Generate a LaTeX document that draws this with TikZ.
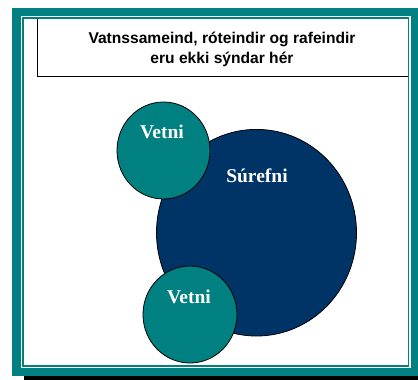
\documentclass[tikz,border=0pt]{standalone}
\usepackage{fontspec}
\setmainfont{Liberation Serif}
\newfontfamily\titlefont{Liberation Sans}
\usetikzlibrary{shapes.geometric}
\definecolor{tealc}{RGB}{0,128,128}
\definecolor{navyc}{RGB}{0,51,102}
\tikzset{
  atom/.style={ellipse, draw=black, line width=0.8bp, inner sep=0pt},
  atomlabel/.style={anchor=base, text=white, font=\bfseries\fontsize{19.5bp}{22bp}\selectfont, inner sep=0pt},
  titletext/.style={anchor=base, font=\titlefont\bfseries\fontsize{15.6bp}{19bp}\selectfont, inner sep=0pt},
}
\begin{document}
\begin{tikzpicture}[x=1bp,y=-1bp]
\useasboundingbox (0,0) rectangle (418,380);
% frame
\fill[black] (24,376) rectangle (418,380);
\fill[tealc] (12,8) rectangle (418,376);
\fill[white] (21,16) rectangle (410.7,368.3);
\fill[tealc] (22.3,17.3) rectangle (409.4,366.8);
\fill[white] (23.6,19) rectangle (407.8,365);
% title box
\draw[black, line width=0.8bp] (37,19) -- (37,76) -- (407.8,76);
\node[titletext] (t1) at (222,43) {Vatnssameind, róteindir og rafeindir};
\node[titletext] (t2) at (222,63) {eru ekki sýndar hér};
% atoms
\node[atom, fill=navyc, minimum width=200bp, minimum height=206.6bp] (o) at (256.5,232.7) {};
\node[atom, fill=tealc, minimum width=93bp, minimum height=97bp] (h1) at (163.5,150.5) {};
\node[atom, fill=tealc, minimum width=94bp, minimum height=97bp] (h2) at (190,314.5) {};
\node[atomlabel] (lo) at (257,182) {Súrefni};
\node[atomlabel] (l1) at (162,138) {Vetni};
\node[atomlabel] (l2) at (189,303) {Vetni};
\end{tikzpicture}
\end{document}
